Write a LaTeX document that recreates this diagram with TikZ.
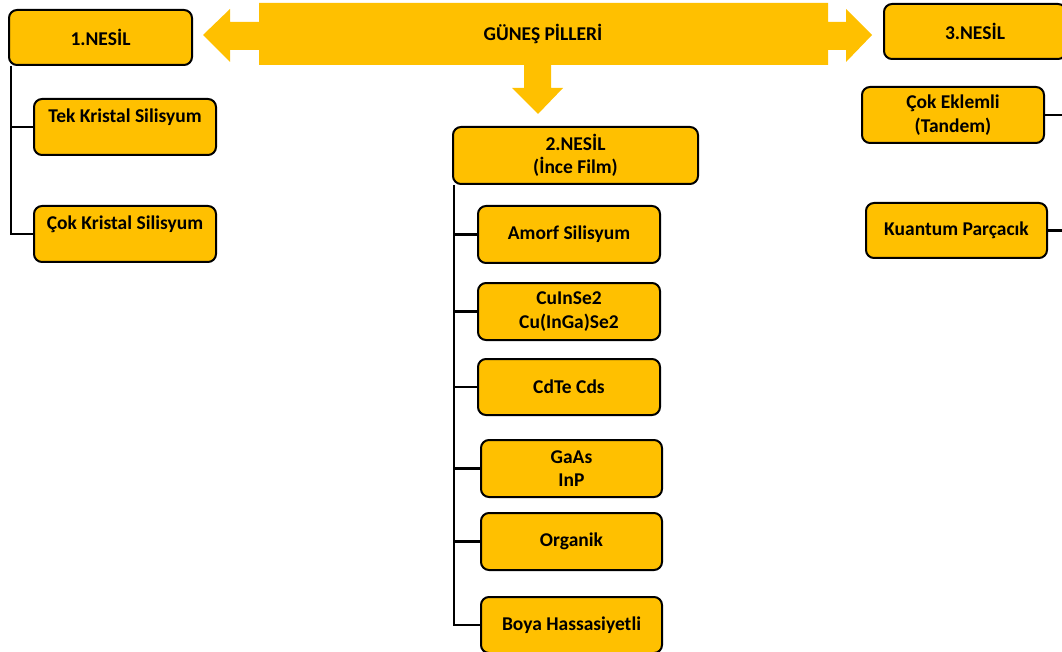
\documentclass[tikz,border=0pt]{standalone}
\usepackage{fontspec}
\setmainfont{Carlito}
\definecolor{gold}{HTML}{FFC000}
\begin{document}
\begin{tikzpicture}[x=1pt,y=-1pt,
  box/.style={draw=black, line width=2pt, rounded corners=8pt, fill=gold,
    inner sep=0pt, align=center, font=\fontsize{19.5}{23.5}\selectfont\bfseries},
  conn/.style={draw=black, line width=2.4pt},
  lbl/.style={inner sep=0pt, align=center, font=\fontsize{19.5}{23.5}\selectfont\bfseries}]
\useasboundingbox (0,0) rectangle (1062,652);
\clip (0,0) rectangle (1062,652);
% big arrow shape
\fill[gold] (203,35) -- (230,9) -- (230,22) -- (259,22) -- (259,3) -- (828,3) -- (828,22)
  -- (846,22) -- (846,9) -- (872,35) -- (846,62) -- (846,50) -- (828,50) -- (828,65)
  -- (551,65) -- (551,88) -- (563,88) -- (538,114) -- (512,88) -- (524,88) -- (524,65)
  -- (259,65) -- (259,50) -- (230,50) -- (230,62) -- cycle;
\node[lbl] (gp) at (543,34) {GÜNEŞ PİLLERİ};
% first generation
\node[box, minimum width=183pt, minimum height=55pt] (n1) at (100.5,37.5) {1.NESİL};
\node[box, minimum width=182pt, minimum height=56pt] (tek) at (125,127) {Tek Kristal Silisyum\\\mbox{}};
\node[box, minimum width=182pt, minimum height=56pt] (cokk) at (125,234) {Çok Kristal Silisyum\\\mbox{}};
% second generation
\node[box, minimum width=245pt, minimum height=57pt] (n2) at (575.5,155.5) {2.NESİL\\(İnce Film)};
\node[box, minimum width=182pt, minimum height=57pt] (amorf) at (569,234.5) {Amorf Silisyum};
\node[box, minimum width=182pt, minimum height=57pt] (cuin) at (569,311.5) {CuInSe2\\Cu(InGa)Se2};
\node[box, minimum width=182pt, minimum height=56pt] (cdte) at (569,387) {CdTe Cds};
\node[box, minimum width=181pt, minimum height=57pt] (gaas) at (571.5,468.5) {GaAs\\InP};
\node[box, minimum width=181pt, minimum height=57pt] (org) at (571.5,541.5) {Organik};
\node[box, minimum width=181pt, minimum height=56pt] (boya) at (571.5,625) {Boya Hassasiyetli};
% third generation
\node[box, minimum width=182pt, minimum height=55pt] (n3) at (975,31.5) {3.NESİL};
\node[box, minimum width=182pt, minimum height=56pt] (coke) at (953,115) {Çok Eklemli\\(Tandem)};
\node[box, minimum width=181pt, minimum height=55pt] (kuan) at (956.5,230.5) {Kuantum Parçacık};
% connectors, first generation
\draw[conn] ([xshift=3pt]n1.south west) |- (cokk.west);
\draw[conn] ([xshift=3pt]n1.south west |- tek.west) -- (tek.west);
% connectors, second generation
\draw[conn] ([xshift=2pt]n2.south west) |- (boya.west);
\foreach \b in {amorf,cuin,cdte,gaas,org}
  \draw[conn] ([xshift=2pt]n2.south west |- \b.west) -- (\b.west);
% connectors, third generation (trunk beyond the edge)
\coordinate (r3) at (1075,59);
\draw[conn] (coke.east) -- (coke.east -| r3);
\draw[conn] (kuan.east) -- (kuan.east -| r3);
\end{tikzpicture}
\end{document}
